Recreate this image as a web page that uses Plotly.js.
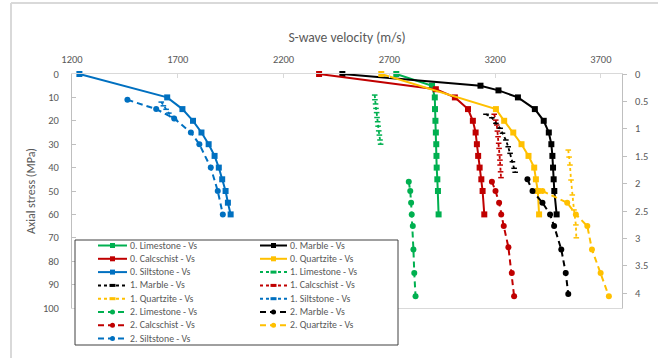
<!DOCTYPE html>
<html><head><meta charset="utf-8">
<script src="https://cdn.plot.ly/plotly-3.0.1.min.js"></script>
<style>html,body{margin:0;padding:0;background:#fff;}#chart{width:658px;height:358px;}</style>
</head><body><div id="chart"></div>
<script>
// ---- data (S-wave velocity m/s vs axial stress MPa) ----
const x0Limestone = [2733,2902,2915,2916,2918,2920,2922,2923,2924,2927,2930,2933];
const y0Limestone = [0,5,10,15,20,25,30,35,40,45,50,60];
const x0Marble = [2478,3131,3216,3308,3388,3430,3454,3466,3471,3474,3477,3480,3491];
const y0Marble = [0,5,7,10,15,20,25,30,35,40,45,50,60];
const x0Calcschist = [2368,2920,3010,3072,3095,3108,3114,3120,3127,3135,3141,3149];
const y0Calcschist = [0,6.5,10,15,20,25,30,35,40,45,50,60];
const x0Quartzite = [2662,3204,3243,3286,3325,3358,3385,3393,3402,3408];
const y0Quartzite = [0,15,20,25,30,35,40,45,50,60];
const x0Siltstone = [1235,1650,1722,1772,1812,1846,1874,1894,1910,1926,1937,1950];
const y0Siltstone = [0,10,15,20,25,30,35,40,45,50,55,60];

const x1Limestone = [2631,2632,2635,2637,2640,2642,2645,2647,2650,2653,2656,2659];
const y1Limestone = [9,11,12.8,14.7,16.5,18.6,20.4,22.3,24.3,26.1,28.2,30];
const x1Marble = [3157,3185,3204,3224,3235,3251,3262,3271,3282,3290,3295];
const y1Marble = [17.2,18.7,21.1,23.2,25.3,28.2,31.1,33.9,37.5,40.3,42];
const x1Calcschist = [3196,3203,3208,3211,3214,3217,3219,3221,3223,3224,3226,3228];
const y1Calcschist = [17.2,19.7,21.8,24.4,26.8,29.6,31.8,34.6,36.8,38.9,41.8,44.3];
const x1Quartzite = [3546,3550,3554,3559,3565,3573,3582,3584];
const y1Quartzite = [32.5,35.5,38.9,45.3,51.7,58.1,64.5,70];
const x1Siltstone = [1622,1632,1645,1658,1672,1688];
const y1Siltstone = [12,13.6,15.1,16.7,18.2,19.8];

const x2Limestone = [2792,2799,2803,2806,2811,2814,2818,2824];
const y2Limestone = [46,50,55,60,65,75,85,95];
const x2Marble = [3353,3377,3424,3460,3479,3513,3534,3546];
const y2Marble = [45,50,55,60,65,75,85,94];
const x2Calcschist = [3185,3202,3219,3229,3241,3263,3279,3290];
const y2Calcschist = [46,50,55,60,65,74,85,95];
const x2Quartzite = [3424,3541,3582,3636,3658,3699,3738];
const y2Quartzite = [50,55,60,65,75,85,95];
const x2Siltstone = [1462,1598,1683,1762,1802,1856,1889,1913];
const y2Siltstone = [11,15,19,25,30,40,50,60];

const xTicks = [1200,1700,2200,2700,3200,3700];
const rightTicks = [0,0.5,1,1.5,2,2.5,3,3.5,4];

// ---- styling ----
const COLORS = {Limestone:'#00B050', Marble:'#000000', Calcschist:'#C00000', Quartzite:'#FFC000', Siltstone:'#0070C0'};
const FONT = 'Calibri, Carlito, Lato, "Open Sans", sans-serif';
const series = [
  ['0. Limestone - Vs', x0Limestone, y0Limestone, 'Limestone', 0],
  ['0. Marble - Vs', x0Marble, y0Marble, 'Marble', 0],
  ['0. Calcschist - Vs', x0Calcschist, y0Calcschist, 'Calcschist', 0],
  ['0. Quartzite - Vs', x0Quartzite, y0Quartzite, 'Quartzite', 0],
  ['0. Siltstone - Vs', x0Siltstone, y0Siltstone, 'Siltstone', 0],
  ['1. Limestone - Vs', x1Limestone, y1Limestone, 'Limestone', 1],
  ['1. Calcschist - Vs', x1Calcschist, y1Calcschist, 'Calcschist', 1],
  ['1. Marble - Vs', x1Marble, y1Marble, 'Marble', 1],
  ['1. Siltstone - Vs', x1Siltstone, y1Siltstone, 'Siltstone', 1],
  ['1. Quartzite - Vs', x1Quartzite, y1Quartzite, 'Quartzite', 1],
  ['2. Limestone - Vs', x2Limestone, y2Limestone, 'Limestone', 2],
  ['2. Marble - Vs', x2Marble, y2Marble, 'Marble', 2],
  ['2. Calcschist - Vs', x2Calcschist, y2Calcschist, 'Calcschist', 2],
  ['2. Quartzite - Vs', x2Quartzite, y2Quartzite, 'Quartzite', 2],
  ['2. Siltstone - Vs', x2Siltstone, y2Siltstone, 'Siltstone', 2]
];
// legend order (row-major, two columns) as in the reference
const legendOrder = ['0. Limestone - Vs','0. Marble - Vs','0. Calcschist - Vs','0. Quartzite - Vs','0. Siltstone - Vs','1. Limestone - Vs','1. Marble - Vs','1. Calcschist - Vs','1. Quartzite - Vs','1. Siltstone - Vs','2. Limestone - Vs','2. Marble - Vs','2. Calcschist - Vs','2. Quartzite - Vs','2. Siltstone - Vs'];

const DASH = ['solid','dot','6px,4px'];
const traces = series.map(s => {
  const c = COLORS[s[3]], g = s[4];
  const t = {x:s[1], y:s[2], name:s[0], type:'scatter', mode:'lines+markers', cliponaxis:false,
    line:{color:c, width:g===1?1.8:2, dash:DASH[g]}, hoverinfo:'x+y+name'};
  if (g===0) t.marker = {symbol:'square', size:6, color:c};
  else if (g===1) t.marker = {symbol:'line-ew', size:4, color:c, line:{color:c, width:1.5}};
  else t.marker = {symbol:'circle', size:6, color:c};
  return t;
});
// secondary (right) axis carrier
traces.push({x:[null], y:[null], yaxis:'y2', showlegend:false, hoverinfo:'skip', mode:'markers'});

const W=658, H=358, L=72, R=36, T=74, B=50, PW=W-L-R, PH=H-T-B;
const px = v => (v-L)/PW, py = v => 1-(v-T)/PH;

const shapes = [
  {type:'line', xref:'paper', yref:'paper', x0:px(11), x1:px(11), y0:py(3), y1:py(358), line:{color:'#d9d9d9', width:2}},
  {type:'line', xref:'paper', yref:'paper', x0:px(11), x1:px(658), y0:py(3), y1:py(3), line:{color:'#d9d9d9', width:2}},
  {type:'rect', xref:'paper', yref:'paper', x0:px(75), x1:px(398), y0:py(240), y1:py(345), fillcolor:'#ffffff', line:{color:'#404040', width:1}}
];
const annotations = [];
const LINEX = [[98,127],[260,287]], TEXTX = [128,288], ROW0 = 245.5, STEP = 13.3;
legendOrder.forEach((nm, i) => {
  const s = series.find(q => q[0]===nm);
  const c = COLORS[s[3]], g = s[4];
  const col = i%2, row = Math.floor(i/2), yy = ROW0 + row*STEP;
  const [a,b] = LINEX[col], m = (a+b)/2;
  shapes.push({type:'line', xref:'paper', yref:'paper', x0:px(a), x1:px(b), y0:py(yy), y1:py(yy), line:{color:c, width:2, dash:DASH[g]}});
  if (g===0) shapes.push({type:'rect', xref:'paper', yref:'paper', x0:px(m-2.5), x1:px(m+2.5), y0:py(yy-2.5), y1:py(yy+2.5), fillcolor:c, line:{width:0}});
  else if (g===1) shapes.push({type:'rect', xref:'paper', yref:'paper', x0:px(m-3), x1:px(m+3), y0:py(yy-1.5), y1:py(yy+1.5), fillcolor:c, line:{width:0}});
  else shapes.push({type:'circle', xref:'paper', yref:'paper', x0:px(m-2.5), x1:px(m+2.5), y0:py(yy-2.5), y1:py(yy+2.5), fillcolor:c, line:{width:0}});
  annotations.push({xref:'paper', yref:'paper', x:px(TEXTX[col]), y:py(yy), xanchor:'left', yanchor:'middle', showarrow:false, text:nm, font:{family:FONT, size:9.8, color:'#595959'}});
});

const layout = {
  width:W, height:H, margin:{l:L, r:R, t:T, b:B, pad:0}, showlegend:false,
  paper_bgcolor:'rgba(0,0,0,0)', plot_bgcolor:'rgba(0,0,0,0)',
  font:{family:FONT, color:'#595959', size:10.5},
  xaxis:{side:'top', range:[1200,3800], tickvals:xTicks, showgrid:false, zeroline:false,
    showline:true, linecolor:'#d9d9d9', linewidth:1, mirror:true, ticks:'inside', ticklen:4, tickcolor:'#d9d9d9',
    ticklabelstandoff:6, tickfont:{size:10.5, color:'#595959'},
    title:{text:'S-wave velocity (m/s)', font:{size:13.6, color:'#595959'}, standoff:7}},
  yaxis:{range:[100,0], tick0:0, dtick:10, showgrid:false, zeroline:false, showline:true, linecolor:'#bfbfbf',
    ticks:'inside', ticklen:4, tickcolor:'#bfbfbf', ticklabelstandoff:10, tickfont:{size:10.5, color:'#595959'},
    title:{text:'Axial stress (MPa)', font:{size:12, color:'#595959'}, standoff:4}},
  yaxis2:{overlaying:'y', side:'right', range:[4.27,0], tickvals:rightTicks, showgrid:false, zeroline:false,
    showline:true, linecolor:'#bfbfbf', ticks:'outside', ticklen:4, tickcolor:'#bfbfbf', ticklabelstandoff:6,
    tickfont:{size:10.5, color:'#595959'}},
  shapes:shapes, annotations:annotations
};
Plotly.newPlot('chart', traces, layout, {displayModeBar:false, staticPlot:true});
</script></body></html>
